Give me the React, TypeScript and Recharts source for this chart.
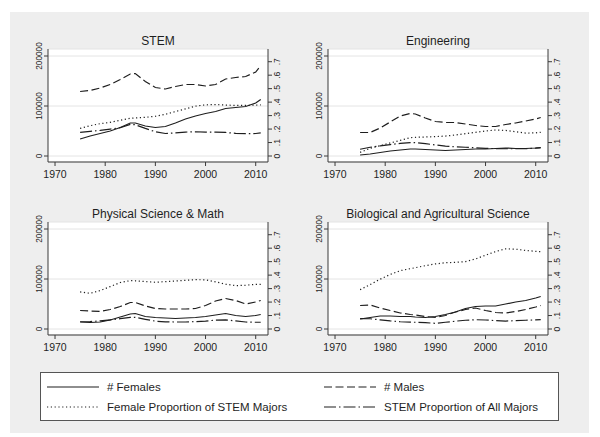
import { LineChart, Line, XAxis, YAxis, CartesianGrid } from 'recharts';

const years = [1975, 1977, 1979, 1981, 1983, 1985, 1986, 1988, 1990, 1992, 1994, 1996, 1998, 2000, 2002, 2004, 2006, 2008, 2010, 2011];

// STEM
const stemFemales = [34000, 40000, 45000, 50000, 57000, 66000, 66000, 60000, 57000, 59000, 66000, 74000, 80000, 85000, 89000, 95000, 97000, 99000, 106000, 113000];
const stemMales = [129000, 131000, 136000, 143000, 153000, 164000, 165000, 149000, 137000, 134000, 139000, 143000, 143000, 140000, 143000, 154000, 157000, 159000, 168000, 181000];
const stemFemShare = [0.205, 0.225, 0.24, 0.25, 0.265, 0.28, 0.283, 0.287, 0.295, 0.31, 0.33, 0.35, 0.37, 0.38, 0.382, 0.378, 0.376, 0.376, 0.378, 0.38];
const stemAllShare = [0.176, 0.183, 0.19, 0.2, 0.21, 0.235, 0.232, 0.205, 0.18, 0.167, 0.172, 0.178, 0.18, 0.178, 0.177, 0.175, 0.168, 0.166, 0.167, 0.172];

// Engineering
const engFemales = [2000, 4000, 7000, 10000, 12000, 14000, 14000, 13000, 12000, 11000, 12000, 13000, 14000, 14000, 15000, 16000, 15000, 15000, 16000, 17000];
const engMales = [47000, 47000, 56000, 68000, 80000, 85000, 84000, 76000, 69000, 67000, 67000, 64000, 61000, 59000, 59000, 63000, 66000, 70000, 74000, 77000];
const engFemShare = [0.027, 0.057, 0.077, 0.097, 0.116, 0.136, 0.139, 0.141, 0.144, 0.148, 0.156, 0.166, 0.176, 0.186, 0.193, 0.19, 0.18, 0.17, 0.172, 0.176];
const engAllShare = [0.05, 0.065, 0.075, 0.085, 0.094, 0.1, 0.1, 0.092, 0.082, 0.073, 0.068, 0.065, 0.061, 0.057, 0.055, 0.054, 0.054, 0.054, 0.058, 0.06];

// Physical Science & Math
const physFemales = [14000, 13000, 14000, 18000, 24000, 30000, 31000, 25000, 23000, 22000, 21000, 22000, 23000, 25000, 28000, 31000, 27000, 25000, 27000, 29000];
const physMales = [37000, 36000, 35000, 39000, 45000, 53000, 53000, 46000, 41000, 40000, 40000, 40000, 41000, 47000, 56000, 61000, 57000, 50000, 54000, 57000];
const physFemShare = [0.275, 0.265, 0.285, 0.315, 0.345, 0.359, 0.358, 0.352, 0.347, 0.352, 0.356, 0.361, 0.366, 0.365, 0.35, 0.333, 0.322, 0.325, 0.331, 0.332];
const physAllShare = [0.054, 0.055, 0.06, 0.068, 0.077, 0.087, 0.087, 0.072, 0.058, 0.053, 0.052, 0.052, 0.055, 0.059, 0.066, 0.068, 0.06, 0.052, 0.05, 0.05];

// Biological and Agricultural Science
const bioFemales = [20000, 23000, 26000, 26000, 25000, 25000, 24000, 23000, 25000, 29000, 34000, 41000, 45000, 46000, 46000, 50000, 54000, 57000, 62000, 65000];
const bioMales = [47000, 48000, 42000, 37000, 32000, 29000, 28000, 25000, 23000, 27000, 34000, 39000, 42000, 37000, 33000, 32000, 35000, 39000, 44000, 47000];
const bioFemShare = [0.292, 0.33, 0.37, 0.405, 0.433, 0.448, 0.455, 0.47, 0.483, 0.492, 0.495, 0.5, 0.52, 0.548, 0.575, 0.595, 0.593, 0.583, 0.577, 0.574];
const bioAllShare = [0.077, 0.076, 0.068, 0.06, 0.054, 0.051, 0.05, 0.047, 0.042, 0.05, 0.058, 0.065, 0.069, 0.067, 0.062, 0.059, 0.062, 0.065, 0.068, 0.069];

const xTicks = [1970, 1980, 1990, 2000, 2010];
const leftTicks = [0, 100000, 200000];
const rightTicks = [0, 0.1, 0.2, 0.3, 0.4, 0.5, 0.6, 0.7];

const FONT = '"Liberation Sans", Arial, Helvetica, sans-serif';
const INK = '#1e1e1e';
const AXIS = '#3a3a3a';

const DASH = '8 3.5';
const DOT = '1.2 2.6';
const DASHDOT = '12 3 1.5 3';

function rows(f: number[], m: number[], fs: number[], as: number[]) {
  return years.map((year, i) => ({ year, females: f[i], males: m[i], femShare: fs[i], allShare: as[i] }));
}

const panels = [
  { title: 'STEM', left: 0, top: 0, data: rows(stemFemales, stemMales, stemFemShare, stemAllShare) },
  { title: 'Engineering', left: 280, top: 0, data: rows(engFemales, engMales, engFemShare, engAllShare) },
  { title: 'Physical Science & Math', left: 0, top: 173, data: rows(physFemales, physMales, physFemShare, physAllShare) },
  { title: 'Biological and Agricultural Science', left: 280, top: 173, data: rows(bioFemales, bioMales, bioFemShare, bioAllShare) },
];

// Stata-style share label: 0, .1, .2 ...
const shareLabel = (v: number) => (v === 0 ? '0' : '.' + Math.round(v * 10));

function LeftTick(props: any) {
  const { x, y, payload } = props;
  return (
    <text x={x} y={y} transform={`rotate(-90 ${x} ${y})`} textAnchor="middle" fontSize={8.3} fill={INK} fontFamily={FONT}>
      {payload.value}
    </text>
  );
}

function RightTick(props: any) {
  const { x, y, payload } = props;
  return (
    <text x={x} y={y} transform={`rotate(-90 ${x} ${y})`} textAnchor="middle" fontSize={8.6} fill={INK} fontFamily={FONT}>
      {shareLabel(payload.value)}
    </text>
  );
}

function BottomTick(props: any) {
  const { x, y, payload } = props;
  return (
    <text x={x} y={y + 7.5} textAnchor="middle" fontSize={10.5} fill={INK} fontFamily={FONT}>
      {payload.value}
    </text>
  );
}

function Panel({ title, left, top, data }: any) {
  return (
    <div style={{ position: 'absolute', left, top, width: 290, height: 200 }}>
      <div
        style={{
          position: 'absolute', left: 48, top: 33, width: 220, height: 16, lineHeight: '16px',
          textAlign: 'center', fontSize: 12, fontFamily: FONT, color: INK, whiteSpace: 'nowrap',
        }}
      >
        {title}
      </div>
      <LineChart width={290} height={200} data={data} margin={{ top: 49, right: 2, bottom: 18, left: 18 }}>
        <CartesianGrid yAxisId="left" vertical={false} fill="#ffffff" stroke="#e4e4e4" strokeWidth={1} />
        <XAxis
          dataKey="year" type="number" domain={[1968.6, 2012.45]} ticks={xTicks} allowDataOverflow interval={0}
          height={20} tickSize={4} tickMargin={4.5} stroke={AXIS} tick={<BottomTick />}
        />
        <YAxis
          yAxisId="left" orientation="left" width={30} domain={[-12000, 214000]} ticks={leftTicks} interval={0}
          allowDataOverflow tickSize={4} tickMargin={2.5} stroke={AXIS} tick={<LeftTick />}
        />
        <YAxis
          yAxisId="right" orientation="right" width={20} domain={[-0.0445, 0.7944]} ticks={rightTicks} interval={0}
          allowDataOverflow tickSize={4} tickMargin={8} stroke={AXIS} tick={<RightTick />}
        />
        <Line yAxisId="left" dataKey="females" stroke={INK} strokeWidth={1.2} dot={false} isAnimationActive={false} />
        <Line yAxisId="left" dataKey="males" stroke={INK} strokeWidth={1.2} strokeDasharray={DASH} dot={false} isAnimationActive={false} />
        <Line yAxisId="right" dataKey="femShare" stroke={INK} strokeWidth={1.2} strokeDasharray={DOT} dot={false} isAnimationActive={false} />
        <Line yAxisId="right" dataKey="allShare" stroke={INK} strokeWidth={1.2} strokeDasharray={DASHDOT} dot={false} isAnimationActive={false} />
      </LineChart>
    </div>
  );
}

const legendItems = [
  { label: '# Females', dash: undefined, x: 47, row: 0 },
  { label: '# Males', dash: DASH, x: 324, row: 0 },
  { label: 'Female Proportion of STEM Majors', dash: DOT, x: 47, row: 1 },
  { label: 'STEM Proportion of All Majors', dash: DASHDOT, x: 324, row: 1 },
];

function Legend() {
  return (
    <>
      <div
        style={{
          position: 'absolute', left: 40, top: 372, width: 517, height: 47,
          border: '1px solid #555', background: '#ffffff',
        }}
      />
      {legendItems.map((it) => {
        const cy = 387 + it.row * 20;
        return (
          <div key={it.label}>
            <svg style={{ position: 'absolute', left: it.x, top: cy - 3 }} width={52} height={6}>
              <line x1={0} y1={3} x2={52} y2={3} stroke={INK} strokeWidth={1.2} strokeDasharray={it.dash} />
            </svg>
            <div
              style={{
                position: 'absolute', left: it.x + 60, top: cy - 8, height: 16, lineHeight: '16px',
                fontSize: 11.5, fontFamily: FONT, color: INK, whiteSpace: 'nowrap',
              }}
            >
              {it.label}
            </div>
          </div>
        );
      })}
    </>
  );
}

export default function App() {
  return (
    <div style={{ position: 'absolute', left: 0, top: 0, width: 600, height: 437, background: '#ffffff', overflow: 'hidden' }}>
      <div style={{ position: 'absolute', left: 10, top: 12, width: 579, height: 421, background: '#eeeeee' }} />
      {panels.map((p) => (
        <Panel key={p.title} {...p} />
      ))}
      <Legend />
    </div>
  );
}
